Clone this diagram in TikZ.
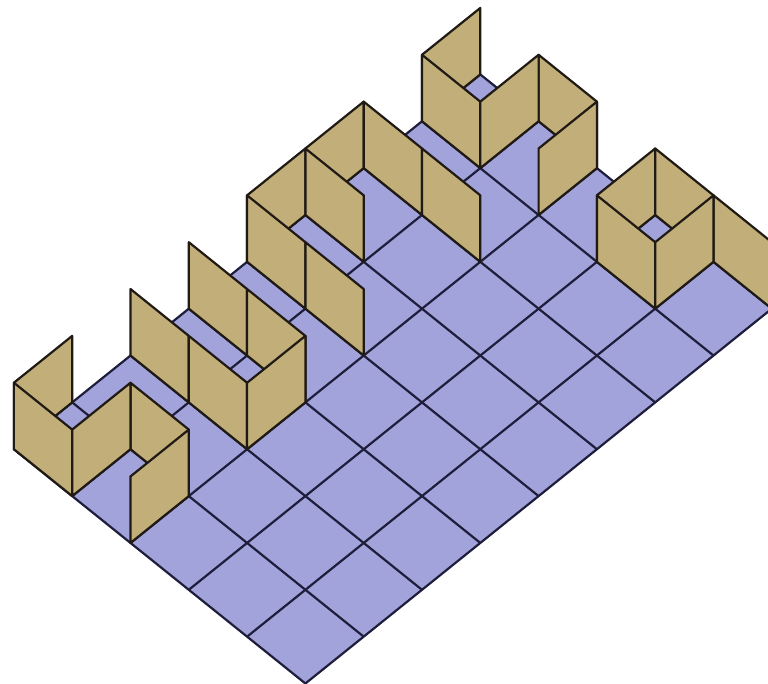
\documentclass[tikz,border=0pt]{standalone}
\definecolor{floorc}{HTML}{A3A3DB}
\definecolor{wallc}{HTML}{C2AE78}
\definecolor{floorline}{HTML}{1E1E3C}
\definecolor{wallline}{HTML}{201A14}
\tikzset{
  floorcell/.style={fill=floorc,draw=floorline,line width=2.2pt,line join=round},
  floorrule/.style={draw=floorline,line width=2.2pt},
  wallpanel/.style={fill=wallc,draw=wallline,line width=2.2pt,line join=round,line cap=round},
}
\begin{document}
\begin{tikzpicture}[x={(58.3pt,46.85pt)},y={(-58.3pt,46.85pt)}]
\useasboundingbox (-305pt,0pt) rectangle (463pt,684pt);
\clip (-305pt,0pt) rectangle (463pt,684pt);
\begin{scope}[xshift=0.4pt,yshift=0.5pt]
\filldraw[floorcell] (0,0) -- (8,0) -- (8,5) -- (0,5) -- cycle;
\foreach \k in {1,...,7} \draw[floorrule] (\k,0) -- (\k,5);
\foreach \k in {1,...,4} \draw[floorrule] (0,\k) -- (8,\k);
% walls, back to front: i1,j1,i2,j2
\foreach \a/\b/\c/\d in {
  7/5/8/5, 7/5/7/4, 8/4/8/3, 7/4/8/4, 7/3/8/3,
  6/5/5/5, 5/5/4/5, 6/5/6/4, 5/5/5/4, 6/4/6/3, 4/5/4/4, 4/4/4/3,
  7/2/8/2, 8/2/8/1, 8/1/8/0, 7/2/7/1, 7/1/8/1,
  3/5/3/4, 3/4/3/3, 2/5/2/4, 2/4/2/3, 2/3/3/3,
  0/5/1/5, 1/4/1/3, 0/5/0/4, 0/4/1/4, 0/3/1/3}
  \filldraw[wallpanel] (\a,\b) -- (\c,\d) -- ([yshift=66.5pt]\c,\d) -- ([yshift=66.5pt]\a,\b) -- cycle;
\end{scope}
\end{tikzpicture}
\end{document}
